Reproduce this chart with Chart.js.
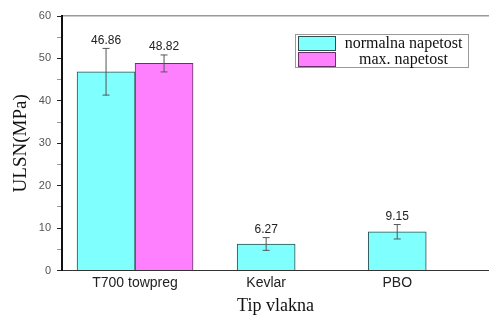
<!DOCTYPE html>
<html>
<head>
<meta charset="utf-8">
<script src="https://cdn.jsdelivr.net/npm/chart.js@4.4.0/dist/chart.umd.min.js"></script>
<style>
  html, body { margin: 0; padding: 0; background: #fff; }
  #wrap { width: 489px; height: 317px; position: relative; }
</style>
</head>
<body>
<div id="wrap"><canvas id="grafico"></canvas></div>
<script>
// datos
const categories = ['T700 towpreg', 'Kevlar', 'PBO'];
const normalValues = [46.86, 6.27, 9.15];
const normalErrors = [5.5, 1.5, 1.7];
const maxValues = [48.82, null, null];
const maxErrors = [2.0, null, null];
const seriesLabels = ['normalna napetost', 'max. napetost'];
const yMin = 0, yMax = 60, yStep = 10;

const sans = "'Liberation Sans', Arial, sans-serif";
const serif = "'Liberation Serif', 'Times New Roman', serif";

// posiciones de categoria (1, 2, 3) en eje lineal
const pts = (vals) => vals.map((v, i) => ({ x: i + 1, y: v }));

// barras de error + etiquetas de valor
const errorBars = {
  id: 'errorBars',
  afterDatasetsDraw(chart) {
    const ctx = chart.ctx;
    const ys = chart.scales.y;
    chart.data.datasets.forEach((ds, di) => {
      const meta = chart.getDatasetMeta(di);
      meta.data.forEach((bar, i) => {
        const v = ds.data[i].y;
        if (v == null) return;
        const e = ds.errors[i];
        const top = ys.getPixelForValue(v + e);
        const bot = ys.getPixelForValue(v - e);
        ctx.save();
        ctx.strokeStyle = '#555';
        ctx.lineWidth = 1;
        ctx.beginPath();
        ctx.moveTo(bar.x, top); ctx.lineTo(bar.x, bot);
        ctx.moveTo(bar.x - 3.5, top); ctx.lineTo(bar.x + 3.5, top);
        ctx.moveTo(bar.x - 3.5, bot); ctx.lineTo(bar.x + 3.5, bot);
        ctx.stroke();
        ctx.fillStyle = '#222';
        ctx.font = '12px ' + sans;
        ctx.textAlign = 'center';
        ctx.textBaseline = 'bottom';
        ctx.fillText(v.toFixed(2), bar.x, top - 2);
        ctx.restore();
      });
    });
  }
};

// leyenda con recuadro dentro del area
const boxLegend = {
  id: 'boxLegend',
  afterDraw(chart) {
    const ctx = chart.ctx;
    const x0 = 295, y0 = 34, w = 173, rowH = 16;
    ctx.save();
    ctx.strokeStyle = '#999';
    ctx.lineWidth = 1;
    ctx.strokeRect(x0 + 0.5, y0 + 0.5, w, rowH * 2 + 1);
    chart.data.datasets.forEach((ds, i) => {
      const ry = y0 + 1 + i * rowH;
      ctx.fillStyle = ds.backgroundColor;
      ctx.fillRect(x0 + 3, ry + 1, 38, rowH - 1);
      ctx.strokeStyle = ds.borderColor;
      ctx.strokeRect(x0 + 3.5, ry + 1.5, 37, rowH - 2);
      ctx.fillStyle = '#111';
      ctx.font = '16px ' + serif;
      ctx.textAlign = 'center';
      ctx.textBaseline = 'middle';
      ctx.fillText(ds.label, x0 + 44 + (w - 44) / 2, ry + rowH / 2 + 1);
    });
    ctx.restore();
  }
};

const ticksAt = (scale) => { scale.ticks = categories.map((c, i) => ({ value: i + 1 })); };

new Chart(document.getElementById('grafico'), {
  type: 'bar',
  data: {
    datasets: [
      {
        label: seriesLabels[0],
        data: pts(normalValues),
        errors: normalErrors,
        backgroundColor: '#80FFFF',
        borderColor: '#2F4F4F',
        borderWidth: 1
      },
      {
        label: seriesLabels[1],
        data: pts(maxValues),
        errors: maxErrors,
        backgroundColor: '#FF80FF',
        borderColor: '#663366',
        borderWidth: 1
      }
    ]
  },
  options: {
    responsive: true,
    maintainAspectRatio: false,
    animation: false,
    skipNull: true,
    barThickness: 58,
    layout: { padding: { top: 16, right: 0, bottom: 0, left: 0 } },
    plugins: {
      legend: { display: false },
      tooltip: { enabled: false }
    },
    scales: {
      x: {
        type: 'linear',
        offset: false,
        min: 0.443,
        max: 3.70,
        afterBuildTicks: ticksAt,
        grid: { display: false, drawTicks: false },
        border: { display: true, color: '#333', width: 1 },
        ticks: {
          padding: 4,
          color: '#222',
          font: { family: sans, size: 14 },
          callback: (v) => categories[v - 1] || ''
        },
        title: {
          display: true,
          text: 'Tip vlakna',
          color: '#111',
          font: { family: serif, size: 18 },
          padding: { top: 0, bottom: 0 }
        }
      },
      xTop: {
        type: 'linear',
        position: 'top',
        min: 0.443,
        max: 3.70,
        grid: { display: false, drawTicks: false },
        ticks: { display: false },
        border: { display: true, color: '#999', width: 1.5 }
      },
      y: {
        min: yMin,
        max: yMax,
        ticks: {
          stepSize: yStep / 2,
          padding: 6,
          color: '#555',
          font: { family: sans, size: 11 },
          callback: (v) => (v % yStep === 0 ? v : '')
        },
        grid: {
          drawOnChartArea: false,
          drawTicks: true,
          tickLength: 5,
          tickColor: (c) => (c.tick && c.tick.value % yStep !== 0 ? '#999' : '#222')
        },
        border: { display: true, color: '#111', width: 2 },
        title: {
          display: true,
          text: 'ULSN(MPa)',
          color: '#111',
          font: { family: serif, size: 19 },
          padding: { top: 10, bottom: 0 }
        }
      }
    }
  },
  plugins: [errorBars, boxLegend]
});
</script>
</body>
</html>
